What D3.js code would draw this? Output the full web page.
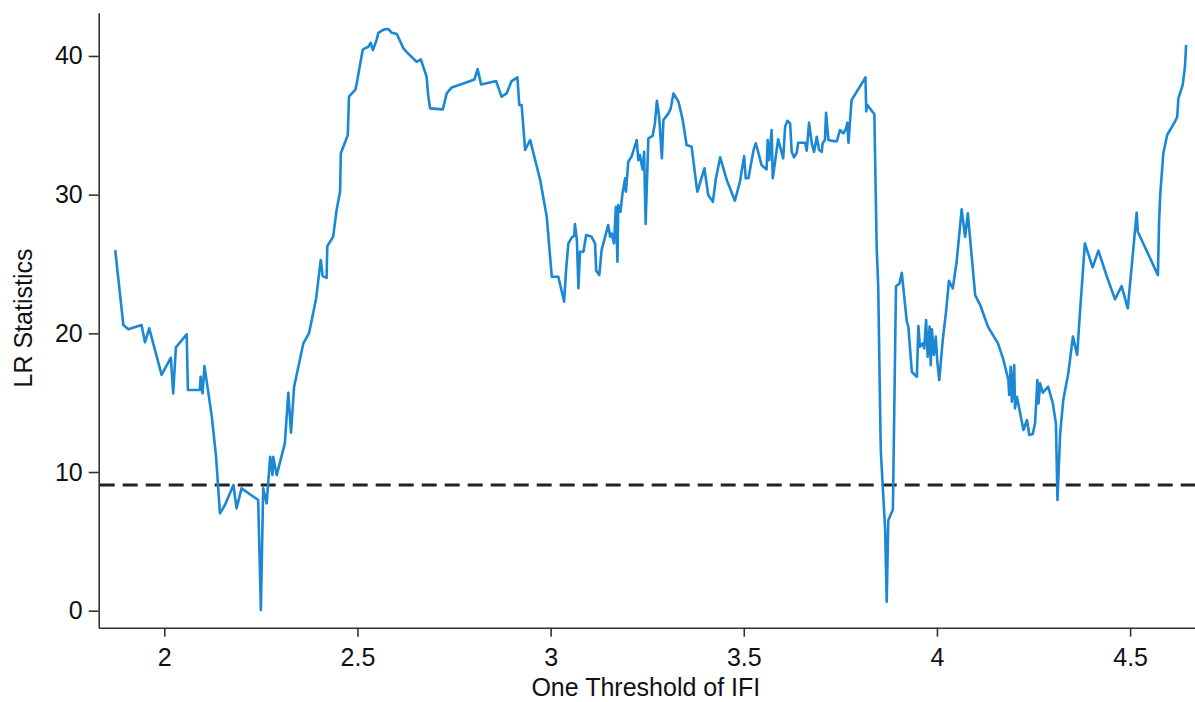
<!DOCTYPE html>
<html>
<head>
<meta charset="utf-8">
<script src="https://cdn.jsdelivr.net/npm/d3@7"></script>
<style>
  html, body { margin: 0; padding: 0; background: #fff; }
  svg { display: block; }
  text { font-family: "Liberation Sans", Arial, sans-serif; }
</style>
</head>
<body>
<svg id="chart" width="1195" height="702"></svg>
<script>
// Threshold values (x) and LR statistics (y)
const thresholds = [
1.873,1.894,1.907,1.941,1.950,1.961,1.993,2.017,2.023,2.030,2.058,2.061,2.092,2.094,2.099,2.104,2.123,2.134,2.144,2.157,
2.179,2.187,2.200,2.243,2.250,2.256,2.265,2.274,2.280,2.282,2.291,2.312,2.321,2.328,2.336,2.360,2.375,
2.393,2.405,2.410,2.420,2.422,2.437,2.446,2.455,2.457,2.475,2.478,2.495,2.500,2.505,2.514,2.528,2.534,2.540,2.550,2.554,
2.569,2.580,2.589,2.602,2.619,2.627,2.653,2.664,2.679,2.683,2.688,2.721,2.731,2.744,2.774,2.803,2.811,2.820,2.859,2.873,
2.886,2.899,2.914,2.919,2.925,2.934,2.947,2.973,2.990,3.003,3.020,3.035,
3.040,3.046,3.055,3.061,3.063,3.068,3.072,3.076,3.085,3.092,3.106,3.115,3.118,3.126,3.132,3.149,3.154,3.158,3.164,3.169,
3.173,3.175,3.181,3.186,3.193,3.195,3.201,3.210,3.223,3.227,3.231,3.238,3.242,3.246,3.253,3.264,3.270,3.275,3.281,3.288,
3.292,3.305,3.311,3.318,3.331,3.342,3.352,3.365,3.378,3.380,3.398,3.408,3.420,3.428,3.439,3.456,3.477,3.490,3.501,3.505,
3.512,3.525,3.531,3.536,3.546,3.559,3.562,3.566,3.572,3.575,3.589,3.602,3.607,3.613,3.620,3.624,3.630,3.637,3.641,3.659,
3.663,3.669,3.676,3.682,3.689,3.695,3.702,3.704,3.710,3.713,3.719,3.732,3.741,3.749,3.758,3.765,3.768,3.771,3.779,3.815,
3.817,3.819,3.838,3.841,3.844,3.848,3.854,3.855,3.866,3.870,3.874,3.886,3.894,3.903,3.909,3.922,3.926,3.935,3.943,3.948,
3.952,3.956,3.963,3.967,3.972,3.976,3.981,3.984,3.987,3.992,3.997,4.001,4.006,4.015,4.024,4.031,4.041,4.051,4.064,4.073,
4.080,4.099,4.112,4.132,4.158,4.171,4.185,4.187,4.191,4.194,4.200,4.202,4.207,4.224,4.233,4.239,4.248,4.254,4.260,4.263,
4.267,4.274,4.288,4.300,4.308,4.312,4.319,4.327,4.340,4.352,4.363,4.370,4.383,4.403,4.418,4.440,4.461,4.478,4.494,4.517,
4.520,4.572,4.575,4.578,4.586,4.596,4.616,4.622,4.625,4.636,4.642,4.645
];
const lrStats = [
26.0,20.6,20.3,20.6,19.35,20.36,17.0,18.24,15.67,18.99,19.93,15.91,15.91,16.87,15.67,17.64,13.99,11.1,7.02,7.62,
9.06,7.38,8.82,7.98,0.05,8.82,7.74,11.1,9.78,11.1,9.78,12.07,15.72,12.83,16.15,19.28,20.04,
22.52,25.28,24.13,24.0,26.29,26.96,28.89,30.21,32.98,34.3,37.06,37.59,38.31,39.11,40.48,40.66,40.95,40.43,41.2,41.67,
41.92,41.94,41.67,41.58,40.55,40.3,39.58,39.75,38.5,37.18,36.22,36.15,37.3,37.73,38.02,38.31,39.06,37.95,38.19,37.06,
37.3,38.19,38.46,36.46,36.46,33.22,33.94,31.05,28.41,24.08,24.08,22.28,
24.56,26.49,26.92,27.02,27.88,26.73,23.25,25.88,25.88,27.09,26.96,26.49,24.51,24.2,26.0,27.81,26.96,27.2,26.49,29.13,
25.16,29.25,28.77,30.09,31.18,30.21,32.37,32.78,33.94,32.49,32.86,31.82,33.09,27.88,34.06,34.23,35.14,36.77,35.62,32.62,
35.38,35.86,36.22,37.3,36.7,35.38,33.58,33.45,30.57,30.21,31.9,29.97,29.49,31.18,32.69,31.05,29.56,30.93,32.78,31.18,
31.18,33.17,33.7,33.22,32.13,31.82,33.94,32.49,34.66,31.18,33.99,32.62,34.9,35.33,35.14,33.09,32.69,33.02,33.74,33.74,
33.17,35.19,33.7,33.09,34.17,33.22,33.09,33.7,33.94,35.9,33.94,33.86,33.86,34.66,34.42,34.78,35.19,33.74,36.82,38.45,
36.0,36.5,35.8,31.0,26.2,23.4,12.5,11.35,5.8,0.65,6.5,7.3,23.4,23.6,24.37,20.84,20.48,17.23,16.99,16.87,
20.53,19.03,19.28,18.92,20.96,18.31,20.48,17.71,20.29,18.44,19.76,17.95,16.63,19.52,21.68,23.79,23.24,25.16,28.94,26.96,
28.65,22.76,22.04,20.48,19.28,18.2,16.63,15.55,17.59,15.07,17.71,14.59,15.43,13.03,13.75,12.67,12.74,13.51,16.63,14.95,
16.39,15.72,16.15,14.95,13.51,7.98,12.79,15.19,17.12,19.76,18.44,21.44,26.49,24.76,25.96,24.08,22.45,23.41,21.8,28.7,
27.33,24.2,28.0,30.0,32.98,34.3,35.26,35.62,36.94,37.9,39.22,40.79
];
const criticalValue = [9.06];
const xTicks = [2, 2.5, 3, 3.5, 4, 4.5];
const yTicks = [0, 10, 20, 30, 40];
const xLabel = "One Threshold of IFI";
const yLabel = "LR Statistics";

const svg = d3.select("#chart");
const mLeft = 98.7, mRight = 1195, mTop = 12.7, mBottom = 627.7;

const x = d3.scaleLinear().domain([1.8302, 4.668]).range([mLeft, mRight]);
const y = d3.scaleLinear().domain([-1.226, 43.12]).range([mBottom, mTop]);

const data = thresholds.map((t, i) => ({ x: t, y: lrStats[i] }));

// Axes
const xAxis = svg.append("g")
  .attr("transform", `translate(0,${mBottom})`)
  .call(d3.axisBottom(x).tickValues(xTicks).tickFormat(d3.format("")).tickSize(9).tickSizeOuter(0).tickPadding(12));
const yAxis = svg.append("g")
  .attr("transform", `translate(${mLeft},0)`)
  .call(d3.axisLeft(y).tickValues(yTicks).tickSize(10).tickSizeOuter(0).tickPadding(6));

[xAxis, yAxis].forEach(g => {
  g.selectAll("path.domain").attr("stroke", "#333").attr("stroke-width", 1.6);
  g.selectAll(".tick line").attr("stroke", "#333").attr("stroke-width", 1.6);
  g.selectAll(".tick text").attr("fill", "#111").style("font-size", "25px")
    .style("font-family", '"Liberation Sans", Arial, sans-serif');
});

// Critical value dashed line
svg.append("g").selectAll("line").data(criticalValue).join("line")
  .attr("x1", mLeft + 1).attr("x2", mRight)
  .attr("y1", d => y(d)).attr("y2", d => y(d))
  .attr("stroke", "#222").attr("stroke-width", 3)
  .attr("stroke-dasharray", "15,8");

// LR line
svg.append("path")
  .datum(data)
  .attr("fill", "none")
  .attr("stroke", "#1a88d4")
  .attr("stroke-width", 2.6)
  .attr("stroke-linejoin", "round")
  .attr("d", d3.line().x(d => x(d.x)).y(d => y(d.y)));

// Axis titles
svg.append("text")
  .attr("x", (mLeft + mRight) / 2 - 1).attr("y", 696)
  .attr("text-anchor", "middle")
  .attr("fill", "#111")
  .style("font-size", "25px")
  .text(xLabel);

svg.append("text")
  .attr("transform", "translate(32,318) rotate(-90)")
  .attr("text-anchor", "middle")
  .attr("fill", "#111")
  .style("font-size", "25px")
  .text(yLabel);
</script>
</body>
</html>
